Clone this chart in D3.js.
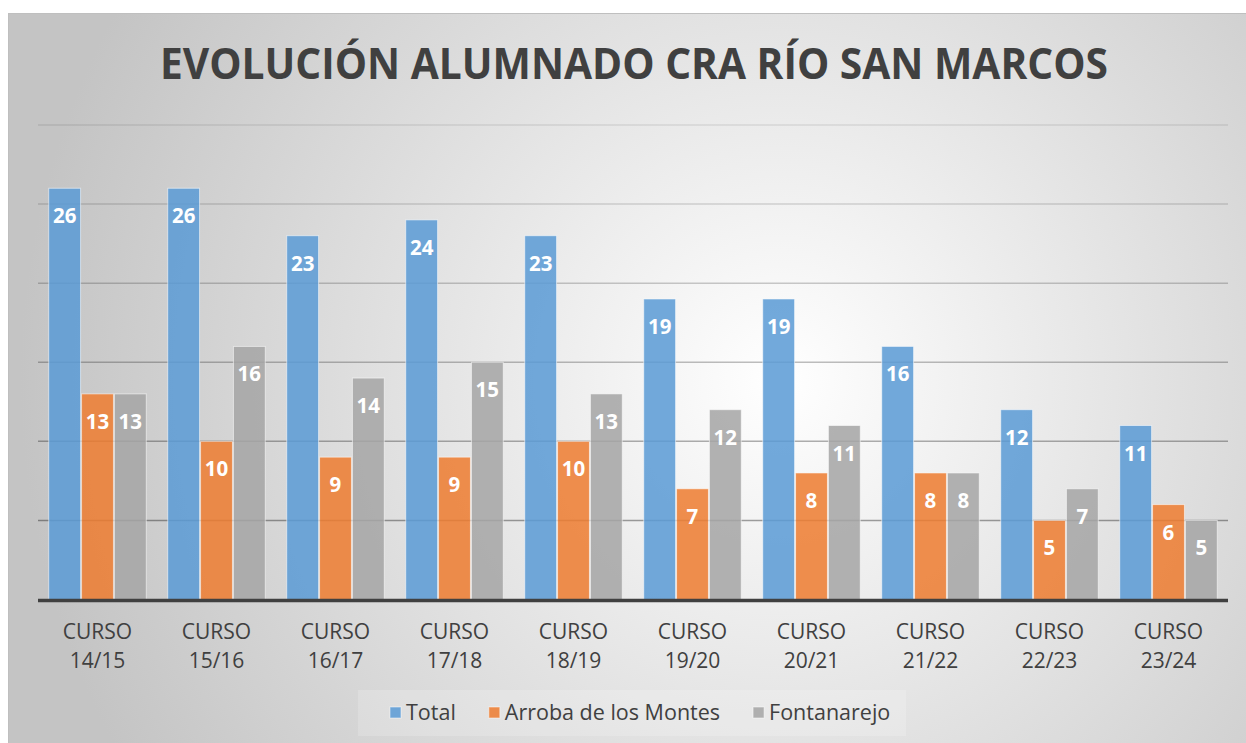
<!DOCTYPE html>
<html>
<head>
<meta charset="utf-8">
<script src="https://cdn.jsdelivr.net/npm/d3@7"></script>
<style>
  body { margin: 0; background: #fff; }
  svg { display: block; }
</style>
</head>
<body>
<div id="chart"></div>
<script>
// Data
var categories = ['CURSO 14/15', 'CURSO 15/16', 'CURSO 16/17', 'CURSO 17/18', 'CURSO 18/19',
                  'CURSO 19/20', 'CURSO 20/21', 'CURSO 21/22', 'CURSO 22/23', 'CURSO 23/24'];
var seriesNames = ['Total', 'Arroba de los Montes', 'Fontanarejo'];
var totalValues = [26, 26, 23, 24, 23, 19, 19, 16, 12, 11];
var arrobaValues = [13, 10, 9, 9, 10, 7, 8, 8, 5, 6];
var fontanarejoValues = [13, 16, 14, 15, 13, 12, 11, 8, 7, 5];
var yTicks = [0, 5, 10, 15, 20, 25, 30];
var titleText = 'EVOLUCIÓN ALUMNADO CRA RÍO SAN MARCOS';

var colors = ['#5b9bd5', '#ed7d31', '#a5a5a5'];
var seriesValues = [totalValues, arrobaValues, fontanarejoValues];

var width = 1246, height = 743;
var font = '"Open Sans", "DejaVu Sans", sans-serif';

var svg = d3.select('#chart').append('svg')
  .attr('width', width)
  .attr('height', height);

// Background gradient
var defs = svg.append('defs');
var grad = defs.append('radialGradient')
  .attr('id', 'bg')
  .attr('gradientUnits', 'userSpaceOnUse')
  .attr('cx', 780).attr('cy', 380).attr('r', 760);
grad.append('stop').attr('offset', '0%').attr('stop-color', '#ffffff');
grad.append('stop').attr('offset', '100%').attr('stop-color', '#c4c4c4');

svg.append('rect')
  .attr('x', 8).attr('y', 13)
  .attr('width', width - 8).attr('height', height - 13)
  .attr('fill', 'url(#bg)');
svg.append('line')
  .attr('x1', 8).attr('x2', width).attr('y1', 13.5).attr('y2', 13.5)
  .attr('stroke', '#bfbfbf').attr('stroke-width', 1);
svg.append('line')
  .attr('x1', 8.5).attr('x2', 8.5).attr('y1', 13).attr('y2', height)
  .attr('stroke', '#bfbfbf').attr('stroke-width', 1);

// Scales
var x = d3.scaleBand()
  .domain(categories)
  .range([38, 1228])
  .paddingInner(0.172)
  .paddingOuter(0.086);

var xSub = d3.scaleBand()
  .domain(seriesNames)
  .range([0, x.bandwidth()]);

var y = d3.scaleLinear()
  .domain([0, 30])
  .range([599.5, 125]);

// Gridlines
svg.append('g')
  .selectAll('line')
  .data(yTicks.filter(d => d > 0))
  .join('line')
    .attr('x1', 38).attr('x2', 1228)
    .attr('y1', d => y(d)).attr('y2', d => y(d))
    .attr('stroke', '#000')
    .attr('stroke-width', 1.5)
    .attr('stroke-opacity', d => 0.42 - d * 0.011);

// Title
svg.append('text')
  .attr('x', 634).attr('y', 79)
  .attr('text-anchor', 'middle')
  .attr('font-family', font)
  .attr('font-weight', 700)
  .attr('font-size', 43)
  .attr('fill', '#404040')
  .attr('textLength', 948)
  .attr('lengthAdjust', 'spacingAndGlyphs')
  .text(titleText);

// Bars
var groups = svg.append('g')
  .selectAll('g')
  .data(categories)
  .join('g')
    .attr('transform', d => 'translate(' + x(d) + ',0)');

groups.selectAll('rect')
  .data((c, i) => seriesNames.map((s, k) => ({ series: s, k: k, value: seriesValues[k][i] })))
  .join('rect')
    .attr('x', d => xSub(d.series) + 0.5)
    .attr('y', d => y(d.value))
    .attr('width', xSub.bandwidth() - 1)
    .attr('height', d => y(0) - y(d.value))
    .attr('fill', d => colors[d.k])
    .attr('fill-opacity', 0.86)
    .attr('stroke', '#ffffff')
    .attr('stroke-opacity', 0.55)
    .attr('stroke-width', 1);

groups.selectAll('text')
  .data((c, i) => seriesNames.map((s, k) => ({ series: s, k: k, value: seriesValues[k][i] })))
  .join('text')
    .attr('x', d => xSub(d.series) + xSub.bandwidth() / 2)
    .attr('y', d => y(d.value) + 35)
    .attr('text-anchor', 'middle')
    .attr('font-family', font)
    .attr('font-weight', 700)
    .attr('font-size', 20.5)
    .attr('fill', '#ffffff')
    .text(d => d.value);

// Baseline
svg.append('line')
  .attr('x1', 38).attr('x2', 1228)
  .attr('y1', y(0) + 1).attr('y2', y(0) + 1)
  .attr('stroke', '#404040')
  .attr('stroke-width', 3.5);

// Category labels (two lines)
var catLabels = svg.append('g')
  .selectAll('text')
  .data(categories)
  .join('text')
    .attr('text-anchor', 'middle')
    .attr('font-family', font)
    .attr('font-size', 21)
    .attr('fill', '#404040');
catLabels.selectAll('tspan')
  .data(d => d.split(' '))
  .join('tspan')
    .attr('x', function() { return x(d3.select(this.parentNode).datum()) + x.bandwidth() / 2; })
    .attr('y', (d, i) => 639 + i * 29)
    .text(d => d);

// Legend
svg.append('rect')
  .attr('x', 358).attr('y', 690)
  .attr('width', 548).attr('height', 46)
  .attr('fill', '#ffffff')
  .attr('fill-opacity', 0.18);

var legend = svg.append('g');
var lx = 390;
seriesNames.forEach(function(name, k) {
  legend.append('rect')
    .attr('x', lx).attr('y', 707)
    .attr('width', 11).attr('height', 11)
    .attr('fill', colors[k])
    .attr('fill-opacity', 0.86)
    .attr('stroke', '#ffffff')
    .attr('stroke-opacity', 0.5);
  var t = legend.append('text')
    .attr('x', lx + 16).attr('y', 720)
    .attr('font-family', font)
    .attr('font-size', 21.5)
    .attr('fill', '#404040')
    .text(name);
  lx += 16 + t.node().getComputedTextLength() + 33;
});
</script>
</body>
</html>
